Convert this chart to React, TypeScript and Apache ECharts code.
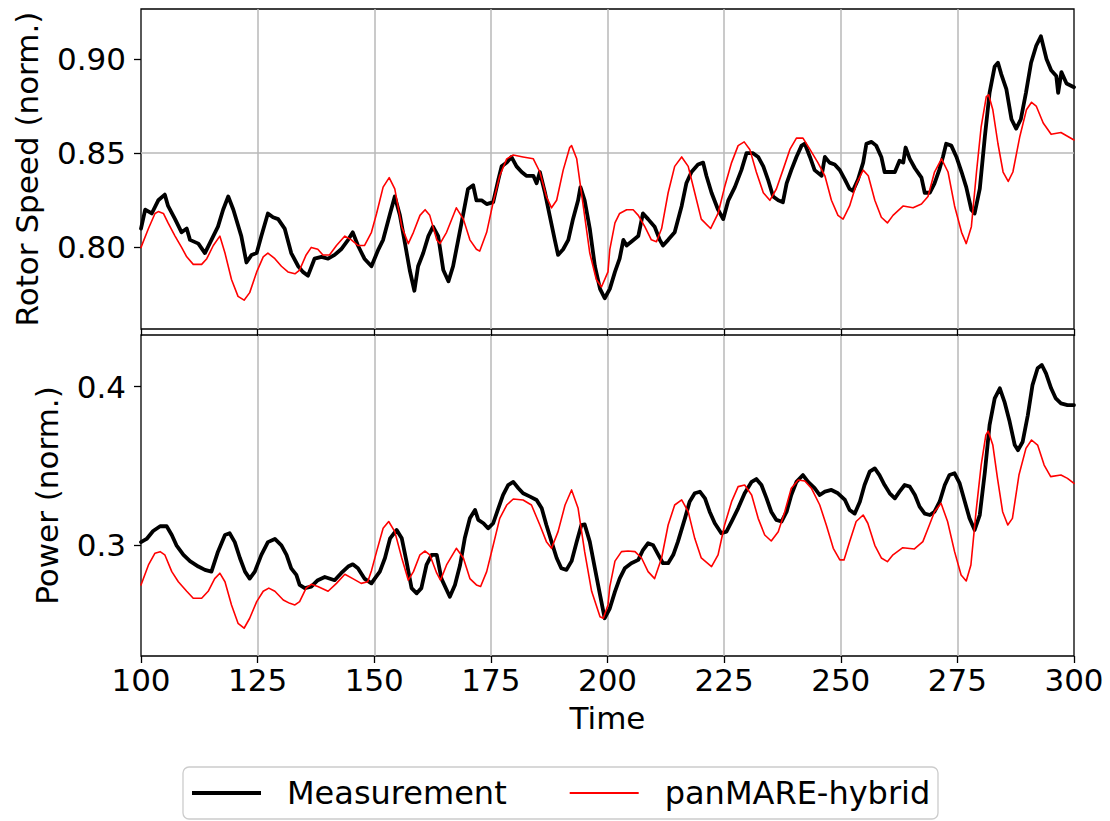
import React, { useEffect, useRef } from 'react';
import * as echarts from 'echarts';

const FONT = 'DejaVu Sans';

const timeTicks = { min: 100, max: 300, interval: 25 };
const speedTicks = [0.8, 0.85, 0.9];
const powerTicks = [0.3, 0.4];
const seriesNames = ['Measurement', 'panMARE-hybrid'];

const speedMeasured: [number, number][] = [
  [100.0, 0.810], [100.9, 0.820], [102.3, 0.818], [103.7, 0.825], [105.1, 0.828], [105.8, 0.822], [107.3, 0.815], [108.7, 0.808], [109.8, 0.810], [110.5, 0.804],
  [112.3, 0.802], [113.7, 0.797], [115.1, 0.804], [116.5, 0.811], [117.6, 0.820], [118.7, 0.827], [119.8, 0.820], [121.5, 0.806], [122.6, 0.792], [123.7, 0.796],
  [124.8, 0.797], [125.8, 0.806], [127.2, 0.818], [128.3, 0.816], [129.4, 0.815], [130.8, 0.810], [132.2, 0.797], [133.7, 0.790], [134.7, 0.787], [135.8, 0.785],
  [137.2, 0.794], [138.7, 0.795], [140.1, 0.794], [141.5, 0.796], [142.9, 0.799], [144.4, 0.804], [145.4, 0.808], [146.5, 0.801], [147.9, 0.794], [149.4, 0.790],
  [150.9, 0.799], [151.9, 0.804], [153.4, 0.818], [154.4, 0.827], [155.5, 0.817], [156.6, 0.802], [157.6, 0.788], [158.6, 0.777], [159.4, 0.790], [160.5, 0.797],
  [161.6, 0.806], [162.6, 0.811], [163.7, 0.806], [164.8, 0.788], [165.9, 0.782], [166.9, 0.790], [168.0, 0.804], [169.1, 0.818], [170.1, 0.831], [171.2, 0.833],
  [171.9, 0.825], [173.0, 0.825], [174.1, 0.823], [175.5, 0.824], [176.6, 0.836], [177.3, 0.843], [178.4, 0.845], [179.4, 0.848], [180.5, 0.843], [181.6, 0.840],
  [182.6, 0.838], [184.1, 0.838], [184.8, 0.834], [185.5, 0.840], [186.6, 0.829], [187.6, 0.817], [188.7, 0.804], [189.4, 0.796], [190.5, 0.799], [191.6, 0.804],
  [192.6, 0.815], [193.7, 0.825], [194.2, 0.832], [195.1, 0.825], [196.2, 0.810], [197.3, 0.790], [198.4, 0.778], [199.4, 0.773], [200.5, 0.778], [201.6, 0.787],
  [202.6, 0.794], [203.4, 0.804], [204.1, 0.801], [205.1, 0.803], [206.6, 0.806], [207.6, 0.818], [208.7, 0.815], [210.1, 0.811], [211.2, 0.804], [211.9, 0.801],
  [213.0, 0.804], [214.4, 0.808], [215.9, 0.822], [216.9, 0.834], [218.0, 0.840], [219.4, 0.844], [220.5, 0.845], [221.2, 0.838], [222.3, 0.829], [223.7, 0.820],
  [224.8, 0.815], [225.9, 0.825], [227.3, 0.832], [228.7, 0.841], [229.8, 0.850], [231.2, 0.850], [232.3, 0.848], [233.4, 0.843], [234.4, 0.836], [235.5, 0.827],
  [236.6, 0.825], [237.6, 0.824], [238.4, 0.834], [239.4, 0.841], [240.5, 0.848], [241.6, 0.854], [242.3, 0.855], [243.4, 0.848], [244.4, 0.841], [245.9, 0.838],
  [246.6, 0.848], [247.6, 0.845], [248.7, 0.844], [249.8, 0.841], [250.9, 0.836], [251.9, 0.831], [252.6, 0.830], [253.7, 0.836], [254.8, 0.845], [255.5, 0.855],
  [256.6, 0.856], [257.6, 0.854], [258.7, 0.848], [259.4, 0.840], [260.5, 0.840], [261.6, 0.840], [262.6, 0.846], [263.4, 0.845], [263.9, 0.853], [264.8, 0.847],
  [265.9, 0.842], [267.3, 0.837], [268.0, 0.829], [269.1, 0.829], [270.1, 0.834], [271.1, 0.841], [271.9, 0.848], [272.6, 0.855], [273.7, 0.854], [274.8, 0.848],
  [275.9, 0.840], [276.9, 0.832], [278.0, 0.820], [278.7, 0.818], [279.8, 0.831], [280.9, 0.859], [281.9, 0.882], [283.0, 0.896], [283.7, 0.898], [284.4, 0.892],
  [285.5, 0.884], [286.6, 0.868], [287.6, 0.863], [288.6, 0.868], [289.7, 0.882], [290.8, 0.898], [291.9, 0.907], [292.9, 0.912], [294.1, 0.900], [295.1, 0.894],
  [296.2, 0.891], [296.6, 0.882], [297.3, 0.893], [298.4, 0.887], [300.0, 0.885],
];

const speedModel: [number, number][] = [
  [100.0, 0.800], [101.6, 0.810], [103.0, 0.818], [103.7, 0.819], [104.8, 0.818], [105.8, 0.813], [107.3, 0.806], [108.7, 0.800], [109.8, 0.795], [111.2, 0.791],
  [113.0, 0.791], [114.1, 0.794], [115.5, 0.801], [116.9, 0.806], [118.0, 0.797], [119.4, 0.783], [120.8, 0.774], [122.1, 0.772], [123.3, 0.776], [124.8, 0.787],
  [126.2, 0.795], [127.2, 0.797], [128.7, 0.794], [130.1, 0.790], [131.5, 0.787], [133.0, 0.786], [134.0, 0.788], [135.4, 0.796], [136.5, 0.800], [137.9, 0.799],
  [139.0, 0.796], [140.4, 0.796], [141.9, 0.801], [143.7, 0.806], [145.1, 0.804], [146.5, 0.801], [147.9, 0.801], [149.4, 0.808], [150.5, 0.818], [151.9, 0.832],
  [153.2, 0.837], [154.4, 0.831], [155.9, 0.811], [157.3, 0.802], [158.4, 0.808], [159.8, 0.817], [160.9, 0.820], [161.9, 0.817], [163.4, 0.804], [164.1, 0.802],
  [165.5, 0.808], [167.6, 0.821], [169.1, 0.815], [170.5, 0.804], [171.9, 0.799], [172.6, 0.798], [174.1, 0.808], [175.5, 0.824], [176.9, 0.838], [178.4, 0.847],
  [179.8, 0.849], [181.9, 0.848], [184.1, 0.847], [185.5, 0.840], [186.9, 0.827], [188.0, 0.821], [189.1, 0.825], [190.5, 0.841], [191.9, 0.853], [192.3, 0.854],
  [193.4, 0.847], [194.8, 0.822], [196.2, 0.797], [197.6, 0.783], [198.7, 0.779], [200.1, 0.787], [200.5, 0.799], [201.6, 0.813], [202.6, 0.818], [204.1, 0.820],
  [205.5, 0.820], [206.6, 0.817], [208.0, 0.811], [209.4, 0.804], [210.5, 0.803], [211.6, 0.810], [213.0, 0.829], [214.4, 0.843], [215.9, 0.848], [217.3, 0.843],
  [218.7, 0.829], [220.1, 0.815], [222.1, 0.810], [223.7, 0.818], [225.1, 0.832], [226.6, 0.845], [228.0, 0.854], [229.3, 0.856], [230.5, 0.852], [231.9, 0.840],
  [233.4, 0.829], [234.8, 0.825], [236.2, 0.831], [237.6, 0.841], [239.1, 0.852], [240.5, 0.858], [241.9, 0.858], [243.4, 0.852], [245.1, 0.845], [246.6, 0.838],
  [248.0, 0.825], [249.4, 0.817], [250.5, 0.815], [251.9, 0.822], [253.4, 0.834], [254.8, 0.841], [255.9, 0.838], [257.3, 0.825], [258.7, 0.816], [260.0, 0.813],
  [261.2, 0.817], [263.4, 0.822], [265.5, 0.821], [267.3, 0.823], [268.7, 0.827], [270.1, 0.840], [271.6, 0.847], [273.0, 0.840], [274.4, 0.822], [275.9, 0.808],
  [276.9, 0.802], [278.0, 0.811], [279.1, 0.840], [280.1, 0.864], [281.2, 0.880], [281.7, 0.881], [282.6, 0.873], [283.7, 0.855], [284.8, 0.840], [285.9, 0.835],
  [286.9, 0.840], [288.4, 0.859], [289.8, 0.873], [290.9, 0.877], [291.9, 0.875], [293.4, 0.866], [295.1, 0.860], [297.2, 0.861], [298.6, 0.859], [300.0, 0.857],
];

const powerMeasured: [number, number][] = [
  [100.0, 0.302], [101.2, 0.304], [102.6, 0.309], [104.1, 0.312], [105.5, 0.312], [106.6, 0.3065], [107.6, 0.300], [109.1, 0.294], [110.5, 0.290], [112.3, 0.2866],
  [113.7, 0.2845], [115.1, 0.2834], [116.5, 0.296], [118.0, 0.3065], [119.0, 0.3076], [120.1, 0.302], [121.2, 0.292], [122.3, 0.2834], [123.3, 0.279], [124.4, 0.2834],
  [125.8, 0.294], [127.2, 0.302], [128.7, 0.304], [130.1, 0.300], [131.2, 0.294], [132.2, 0.2855], [133.3, 0.2813], [134.0, 0.275], [135.1, 0.273], [136.5, 0.274],
  [137.9, 0.278], [139.4, 0.280], [141.5, 0.278], [142.9, 0.2824], [144.4, 0.2866], [145.4, 0.288], [146.5, 0.2855], [147.9, 0.279], [149.4, 0.276], [150.1, 0.279],
  [151.2, 0.2834], [152.3, 0.292], [153.4, 0.3044], [154.8, 0.3097], [155.9, 0.3044], [156.9, 0.290], [158.0, 0.273], [159.1, 0.2697], [160.1, 0.273], [161.2, 0.2876],
  [162.3, 0.294], [163.4, 0.294], [164.4, 0.279], [165.5, 0.272], [166.2, 0.2676], [167.3, 0.275], [168.4, 0.2876], [169.4, 0.3044], [170.5, 0.317], [171.6, 0.3223],
  [172.3, 0.316], [173.4, 0.3139], [174.4, 0.3107], [175.5, 0.3139], [176.6, 0.3233], [177.6, 0.3317], [178.7, 0.338], [179.8, 0.340], [180.9, 0.336], [181.9, 0.3328],
  [183.4, 0.3307], [184.8, 0.3286], [185.9, 0.3233], [186.9, 0.3128], [188.0, 0.3023], [189.1, 0.292], [190.1, 0.2855], [191.2, 0.2845], [192.3, 0.290], [193.4, 0.3023],
  [194.4, 0.3128], [195.1, 0.3132], [196.2, 0.3023], [197.3, 0.2855], [198.4, 0.2687], [199.4, 0.254], [200.5, 0.2603], [201.6, 0.2708], [202.6, 0.279], [203.7, 0.2855],
  [205.1, 0.2887], [206.6, 0.2908], [207.6, 0.297], [208.7, 0.3013], [209.8, 0.300], [210.9, 0.294], [211.9, 0.2887], [213.0, 0.2887], [214.1, 0.294], [215.1, 0.3023],
  [216.6, 0.317], [217.6, 0.3275], [218.7, 0.3328], [219.8, 0.3338], [220.9, 0.3296], [221.9, 0.3212], [223.0, 0.3139], [224.4, 0.3076], [225.5, 0.3086], [226.6, 0.3149],
  [228.0, 0.3233], [229.4, 0.3328], [230.9, 0.340], [231.9, 0.3418], [233.0, 0.338], [234.1, 0.3296], [235.1, 0.3212], [236.2, 0.316], [237.3, 0.315], [238.4, 0.3212],
  [239.4, 0.3317], [240.5, 0.340], [241.9, 0.3443], [243.0, 0.340], [244.4, 0.336], [245.5, 0.3317], [246.6, 0.3338], [248.0, 0.3349], [249.4, 0.3328], [250.9, 0.3286],
  [251.9, 0.3223], [253.0, 0.320], [254.1, 0.3275], [255.1, 0.338], [256.2, 0.3464], [257.3, 0.3485], [258.3, 0.3443], [259.4, 0.338], [260.5, 0.3328], [261.6, 0.3296],
  [262.6, 0.3338], [263.7, 0.338], [264.8, 0.337], [265.9, 0.3317], [266.9, 0.3244], [268.0, 0.320], [269.1, 0.3191], [270.1, 0.3212], [271.2, 0.3275], [272.3, 0.338],
  [273.3, 0.3443], [274.4, 0.3454], [275.5, 0.339], [276.6, 0.3275], [277.6, 0.317], [278.7, 0.3097], [279.8, 0.3191], [280.9, 0.3464], [281.9, 0.3758], [283.0, 0.3926],
  [284.1, 0.399], [285.1, 0.3905], [286.2, 0.378], [287.3, 0.3632], [288.0, 0.360], [289.0, 0.3653], [290.1, 0.382], [291.1, 0.401], [292.2, 0.4116], [293.1, 0.4137],
  [294.0, 0.4084], [295.1, 0.399], [296.1, 0.3926], [297.2, 0.3895], [298.6, 0.3884], [300.0, 0.3884],
];

const powerModel: [number, number][] = [
  [100.0, 0.275], [101.6, 0.2876], [103.0, 0.295], [104.1, 0.296], [105.1, 0.294], [106.6, 0.2834], [108.0, 0.277], [109.8, 0.271], [111.2, 0.2666], [113.0, 0.2666],
  [114.4, 0.271], [115.8, 0.279], [116.9, 0.2824], [118.0, 0.277], [119.4, 0.2624], [120.8, 0.2508], [122.1, 0.2477], [123.3, 0.254], [124.8, 0.2645], [126.2, 0.271],
  [127.4, 0.273], [128.7, 0.271], [130.5, 0.2655], [131.9, 0.2634], [133.0, 0.2624], [134.0, 0.2645], [135.4, 0.273], [136.5, 0.2754], [137.9, 0.274], [140.1, 0.271],
  [141.9, 0.276], [143.7, 0.2817], [145.4, 0.279], [147.2, 0.276], [148.6, 0.277], [149.4, 0.284], [150.5, 0.296], [151.9, 0.3107], [153.1, 0.315], [154.4, 0.3086],
  [155.9, 0.292], [157.3, 0.278], [158.4, 0.2834], [159.8, 0.294], [160.9, 0.2964], [161.9, 0.294], [163.4, 0.2824], [164.2, 0.278], [165.5, 0.2876], [167.6, 0.2981],
  [169.1, 0.292], [170.5, 0.279], [171.9, 0.275], [172.8, 0.274], [174.1, 0.2834], [175.5, 0.300], [176.9, 0.317], [178.4, 0.3254], [179.8, 0.3292], [181.9, 0.3286],
  [183.7, 0.3254], [185.5, 0.3128], [186.9, 0.3023], [188.0, 0.2981], [189.4, 0.3086], [190.9, 0.3254], [192.3, 0.3349], [193.7, 0.3233], [195.1, 0.296], [196.6, 0.271],
  [198.4, 0.255], [199.1, 0.254], [200.1, 0.2624], [200.5, 0.274], [201.6, 0.290], [203.0, 0.296], [204.4, 0.2964], [205.9, 0.296], [207.3, 0.292], [208.7, 0.2834],
  [210.1, 0.279], [211.6, 0.292], [213.0, 0.3128], [214.4, 0.3254], [215.9, 0.3286], [217.3, 0.3212], [218.7, 0.3044], [220.1, 0.292], [222.3, 0.2866], [223.7, 0.294],
  [225.1, 0.3128], [226.6, 0.3275], [228.0, 0.337], [229.4, 0.338], [230.9, 0.3317], [232.3, 0.317], [233.7, 0.3065], [235.1, 0.3027], [236.6, 0.3086], [238.0, 0.3212],
  [239.4, 0.336], [240.9, 0.3412], [242.3, 0.3405], [243.7, 0.336], [245.5, 0.3254], [246.9, 0.3128], [248.4, 0.2981], [249.8, 0.2908], [250.7, 0.2908], [251.9, 0.3023],
  [253.3, 0.315], [254.8, 0.3191], [255.8, 0.3139], [257.3, 0.300], [258.7, 0.292], [260.0, 0.2897], [261.2, 0.294], [263.3, 0.2985], [265.8, 0.2977], [267.6, 0.3023],
  [269.0, 0.3128], [270.1, 0.3212], [271.5, 0.3265], [272.9, 0.315], [274.4, 0.296], [275.8, 0.2813], [276.9, 0.2775], [277.9, 0.2876], [279.0, 0.3212], [280.1, 0.3506],
  [281.1, 0.3695], [281.6, 0.372], [282.6, 0.3632], [283.6, 0.3422], [284.7, 0.3212], [285.8, 0.3128], [286.8, 0.317], [288.2, 0.3443], [289.7, 0.3611], [290.9, 0.3664],
  [292.2, 0.3632], [293.6, 0.3506], [295.0, 0.3433], [297.2, 0.3443], [298.6, 0.3422], [300.0, 0.339],
];

const AXIS_COLOR = '#000000';
const GRID_COLOR = '#b8b8b8';
const FS = 31;
const LEGEND_FS = 32;
const MEAS_COLOR = '#000000';
const MODEL_COLOR = '#ff0000';
const MEAS_WIDTH = 3.8;
const MODEL_WIDTH = 1.6;

function xAxisFor(gridIndex: number, showLabels: boolean) {
  return {
    gridIndex,
    type: 'value',
    min: timeTicks.min,
    max: timeTicks.max,
    interval: timeTicks.interval,
    axisLine: { show: false },
    axisTick: { show: true, length: 7, lineStyle: { color: AXIS_COLOR, width: 1.3 } },
    axisLabel: {
      show: showLabels,
      fontSize: FS,
      fontFamily: FONT,
      color: '#000',
      margin: 8,
    },
    splitLine: {
      show: true,
      showMinLine: false,
      showMaxLine: false,
      lineStyle: { color: GRID_COLOR, width: 1.5 },
    },
    name: showLabels ? 'Time' : '',
    nameLocation: 'middle',
    nameGap: 46,
    nameTextStyle: { fontSize: FS, fontFamily: FONT, color: '#000' },
  };
}

function yAxisFor(gridIndex: number, min: number, max: number, splitNumber: number, ticks: number[], digits: number, name: string, nameGap: number) {
  return {
    gridIndex,
    type: 'value',
    min,
    max,
    splitNumber,
    axisLine: { show: false },
    axisTick: { show: true, customValues: ticks, length: 7, lineStyle: { color: AXIS_COLOR, width: 1.3 } },
    axisLabel: {
      show: true,
      customValues: ticks,
      formatter: (v: number) => v.toFixed(digits),
      fontSize: FS,
      fontFamily: FONT,
      color: '#000',
      margin: 15,
    },
    splitLine: {
      show: true,
      showMinLine: false,
      showMaxLine: false,
      lineStyle: { color: GRID_COLOR, width: 1.5 },
    },
    name,
    nameLocation: 'middle',
    nameGap,
    nameRotate: 90,
    nameTextStyle: { fontSize: FS, fontFamily: FONT, color: '#000' },
  };
}

function lineSeries(name: string, data: [number, number][], axis: number, color: string, width: number) {
  return {
    name,
    type: 'line',
    xAxisIndex: axis,
    yAxisIndex: axis,
    data,
    showSymbol: false,
    symbol: 'none',
    clip: true,
    lineStyle: { color, width, join: 'round', cap: 'round' },
    itemStyle: { color },
  };
}

export default function App() {
  const ref = useRef<HTMLDivElement>(null);
  useEffect(() => {
    document.body.style.margin = '0';
    const chart = echarts.init(ref.current!, null, { renderer: 'svg' });
    const gridBase = {
      left: 141,
      width: 933,
      show: true,
      borderColor: AXIS_COLOR,
      borderWidth: 1.3,
      backgroundColor: 'transparent',
      containLabel: false,
    };
    chart.setOption({
      animation: false,
      backgroundColor: '#ffffff',
      textStyle: { fontFamily: FONT },
      grid: [
        { ...gridBase, top: 9, height: 320 },
        { ...gridBase, top: 335, height: 321 },
      ],
      xAxis: [xAxisFor(0, false), xAxisFor(1, true)],
      yAxis: [
        yAxisFor(0, 0.7567, 0.9265, 3, speedTicks, 2, 'Rotor Speed (norm.)', 99),
        yAxisFor(1, 0.2302, 0.4326, 2, powerTicks, 1, 'Power (norm.)', 79),
      ],
      graphic: [
        {
          type: 'rect',
          z: 1,
          shape: { x: 183, y: 767, width: 755, height: 52, r: 6 },
          style: { fill: '#ffffff', stroke: '#cccccc', lineWidth: 1.3 },
        },
      ],
      legend: {
        left: 192,
        top: 777,
        orient: 'horizontal',
        z: 10,
        data: [
          { name: seriesNames[0], icon: 'path://M0 0H69V4H0Z', itemStyle: { color: MEAS_COLOR } },
          { name: seriesNames[1], icon: 'path://M0 0H69V1.8H0Z', itemStyle: { color: MODEL_COLOR } },
        ],
        symbolKeepAspect: true,
        itemWidth: 69,
        itemHeight: 14,
        itemGap: 63,
        padding: 0,
        borderWidth: 0,
        textStyle: { fontSize: LEGEND_FS, fontFamily: FONT, color: '#000', padding: [0, 0, 0, 21] },
      },
      series: [
        lineSeries(seriesNames[0], speedMeasured, 0, MEAS_COLOR, MEAS_WIDTH),
        lineSeries(seriesNames[1], speedModel, 0, MODEL_COLOR, MODEL_WIDTH),
        lineSeries(seriesNames[0], powerMeasured, 1, MEAS_COLOR, MEAS_WIDTH),
        lineSeries(seriesNames[1], powerModel, 1, MODEL_COLOR, MODEL_WIDTH),
      ],
    });
    return () => chart.dispose();
  }, []);
  return <div ref={ref} style={{ width: 1110, height: 821 }} />;
}
